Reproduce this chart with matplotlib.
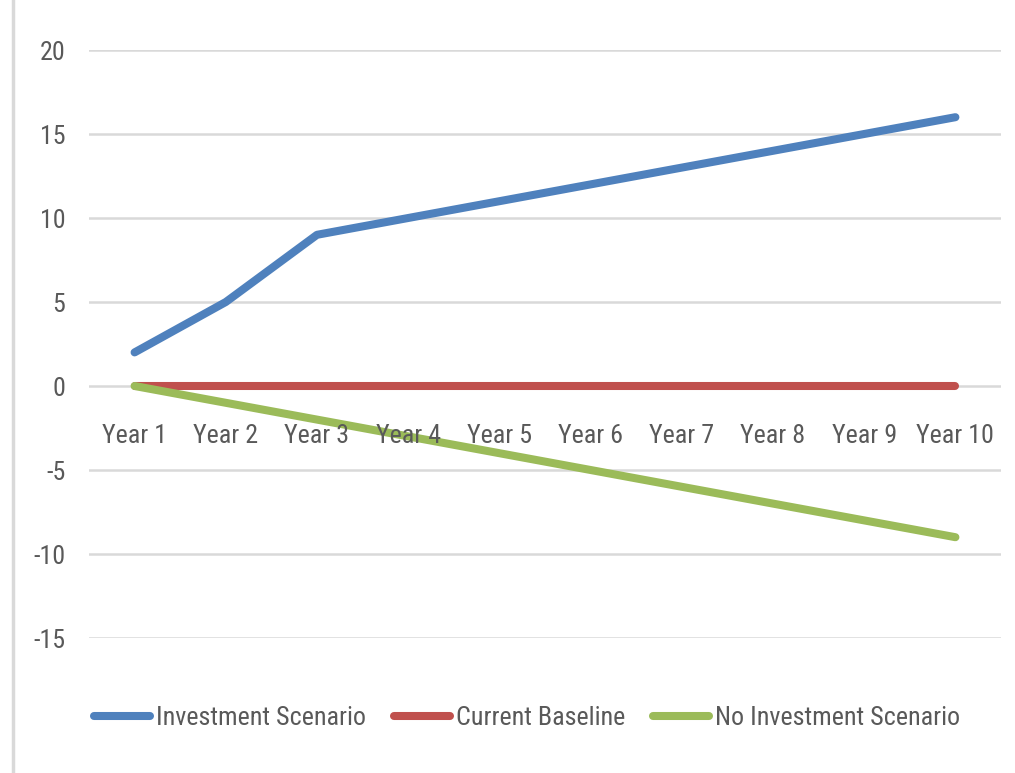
import matplotlib
matplotlib.use("Agg")
import matplotlib.pyplot as plt
from matplotlib.lines import Line2D
from matplotlib import font_manager as fm
from matplotlib.textpath import TextToPath

categories = ["Year 1", "Year 2", "Year 3", "Year 4", "Year 5",
              "Year 6", "Year 7", "Year 8", "Year 9", "Year 10"]
investment = [2, 5, 9, 10, 11, 12, 13, 14, 15, 16]
baseline = [0, 0, 0, 0, 0, 0, 0, 0, 0, 0]
no_investment = [0, -1, -2, -3, -4, -5, -6, -7, -8, -9]
yticks = [-15, -10, -5, 0, 5, 10, 15, 20]
labels = ["Investment Scenario", "Current Baseline", "No Investment Scenario"]

# pick the narrowest available sans font
names = {f.name for f in fm.fontManager.ttflist}
family = 'DejaVu Sans'
for cand in ['Liberation Sans Narrow', 'Roboto Condensed', 'Open Sans Condensed',
             'Noto Sans Condensed', 'DejaVu Sans Condensed', 'Liberation Sans']:
    if cand in names:
        family = cand
        break
plt.rcParams['font.family'] = [family, 'DejaVu Sans']

DPI = 100
t2p = TextToPath()
w100, _, _ = t2p.get_text_width_height_descent(
    labels[0], fm.FontProperties(family=family, size=100), ismath=False)
fs = 210 * 72 / (w100 * DPI / 100) if w100 else 16  # pt size giving ~210 px width
fs_px = fs * DPI / 72
txt = '#595959'

W, H = 1015, 773
fig = plt.figure(figsize=(W/DPI, H/DPI), dpi=DPI)
ax = fig.add_axes([89/W, 1 - 638/H, (1001-89)/W, (638-50)/H])

x = list(range(len(categories)))
colors = ['#4F81BD', '#C0504D', '#9BBB59']
for vals, col, lab in zip([investment, baseline, no_investment], colors, labels):
    ax.plot(x, vals, color=col, lw=5.8, solid_capstyle='round',
            solid_joinstyle='round', label=lab, zorder=3)

ax.set_xlim(-0.5, len(categories) - 0.5)
ax.set_ylim(-15, 20)
ax.set_yticks(yticks)
ax.set_yticklabels([str(v) for v in yticks])
ax.grid(axis='y', color='#D9D9D9', lw=1.8, zorder=0)
ax.set_axisbelow(True)
for s in ax.spines.values():
    s.set_visible(False)
ax.tick_params(axis='y', length=0, pad=17, labelsize=fs, labelcolor=txt)
ax.set_xticks([])

for i, c in enumerate(categories):
    ax.text(i, -2.95, c, ha='center', va='center', fontsize=fs, color=txt)

handles = [Line2D([0], [0], color=col, lw=5.8, solid_capstyle='round')
           for col in colors]
fig.legend(handles, labels, loc='center',
           bbox_to_anchor=(527/W, 1 - 718/H), ncol=3, frameon=False,
           fontsize=fs, labelcolor=txt, handlelength=56/fs_px,
           handletextpad=6/fs_px, columnspacing=28/fs_px)

fig.add_artist(Line2D([13/W, 13/W], [0, 1], color='#D9D9D9', lw=2.5,
                      transform=fig.transFigure))

fig.savefig('out.png', dpi=DPI)
